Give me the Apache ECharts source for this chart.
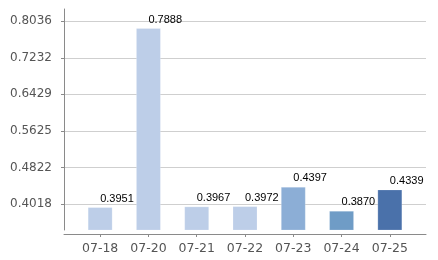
<!DOCTYPE html>
<html><head><meta charset="utf-8">
<script src="https://cdn.jsdelivr.net/npm/echarts@6/dist/echarts.min.js"></script>
<style>html,body{margin:0;padding:0;background:#fff}#c{width:438px;height:260px}</style>
</head><body><div id="c"></div>
<script>
const categories = ['07-18','07-20','07-21','07-22','07-23','07-24','07-25'];
const values = [0.3951, 0.7888, 0.3967, 0.3972, 0.4397, 0.3870, 0.4339];
const barColors = ['#bdcee8','#bdcee8','#bdcee8','#bdcee8','#8caed6','#6f9cc6','#4a71aa'];
const yTickValues = [0.4018, 0.4822, 0.5625, 0.6429, 0.7232, 0.8036];
const yMin = 0.3447, yMax = 0.8306;

const chart = echarts.init(document.getElementById('c'), null, {renderer:'canvas'});
chart.setOption({
  animation: false,
  grid: [
    {left: 64, right: 12, top: 9, bottom: 30},
    {left: 76, right: 24, top: 9, bottom: 30}
  ],
  xAxis: [
    {gridIndex: 0, type: 'value', min: 0, max: 1, offset: 4,
     axisLine: {show: true, lineStyle: {color: '#8a8a8a', width: 1}},
     axisTick: {show: false}, axisLabel: {show: false}, splitLine: {show: false}},
    {gridIndex: 1, type: 'category', data: categories, offset: 4,
     axisLine: {show: false},
     axisTick: {show: true, alignWithLabel: true, length: 3, lineStyle: {color: '#8a8a8a'}},
     axisLabel: {margin: 8, color: '#555', fontFamily: 'DejaVu Sans', fontSize: 12.5}}
  ],
  yAxis: [
    {gridIndex: 0, type: 'value', min: yMin, max: yMax, offset: 4,
     axisLine: {show: true, lineStyle: {color: '#8a8a8a', width: 1}},
     axisTick: {show: true, length: 3, customValues: yTickValues, lineStyle: {color: '#8a8a8a'}},
     axisLabel: {margin: 8, customValues: yTickValues, color: '#555', fontFamily: 'DejaVu Sans', fontSize: 12,
       formatter: v => Number(v).toFixed(4)},
     splitLine: {show: true, lineStyle: {color: '#cfcfcf', width: 1}}},
    {gridIndex: 1, type: 'value', min: yMin, max: yMax, show: false, splitLine: {show: false}}
  ],
  series: [{
    type: 'bar', xAxisIndex: 1, yAxisIndex: 1, barWidth: 25,
    data: values.map((v, i) => ({value: v, itemStyle: {color: barColors[i]}})),
    itemStyle: {borderColor: 'rgba(255,255,255,0.2)', borderWidth: 1},
    label: {show: true, position: 'top', distance: 3, align: 'left', color: '#000',
      fontFamily: 'Liberation Sans', fontSize: 11, formatter: p => p.value.toFixed(4)}
  }]
});
</script></body></html>
